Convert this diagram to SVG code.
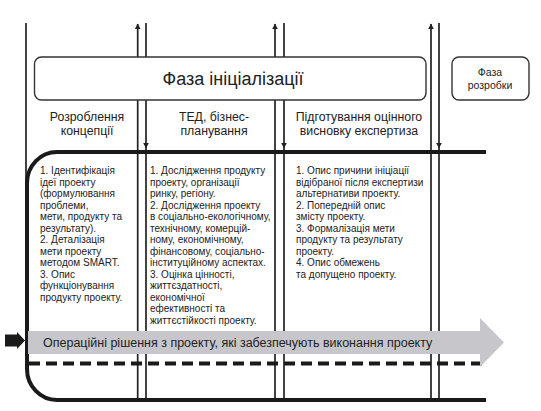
<svg xmlns="http://www.w3.org/2000/svg" width="541" height="411" viewBox="0 0 541 411">
<defs>
<style>
.v{stroke:#222;stroke-width:1.7;fill:none}
.thick{stroke:#1a1a1a;stroke-width:4;fill:none}
.box{fill:#fff;stroke:#333;stroke-width:1.4}
.t{font-family:"Liberation Sans",Arial,sans-serif;fill:#222}
.hd{font-size:12.3px;text-anchor:middle}
.bd{font-size:10px}
</style>
<marker id="ah" viewBox="0 0 10 10" refX="9" refY="5" markerWidth="6" markerHeight="7" markerUnits="userSpaceOnUse" orient="auto">
<path d="M0,0 L10,5 L0,10 Z" fill="#222"/>
</marker>
</defs>
<rect width="541" height="411" fill="#fff"/>
<g id="connectors">
<line class="v" x1="26" y1="23" x2="26" y2="200"/>
<line class="v" x1="137.7" y1="400" x2="137.7" y2="24" marker-end="url(#ah)"/>
<line class="v" x1="146" y1="23" x2="146" y2="148" marker-end="url(#ah)"/>
<line class="v" x1="146" y1="148" x2="146" y2="400"/>
<line class="v" x1="275" y1="400" x2="275" y2="24" marker-end="url(#ah)"/>
<line class="v" x1="284" y1="23" x2="284" y2="148" marker-end="url(#ah)"/>
<line class="v" x1="284" y1="148" x2="284" y2="400"/>
<line class="v" x1="431" y1="400" x2="431" y2="24" marker-end="url(#ah)"/>
<line class="v" x1="439" y1="23" x2="439" y2="148" marker-end="url(#ah)"/>
<line class="v" x1="439" y1="148" x2="439" y2="400"/>
<path class="thick" d="M486,152 H57 A30,31 0 0 0 27,183 V369 A30,31 0 0 0 57,400 H486"/>
<line x1="29" y1="363.5" x2="485" y2="363.5" stroke="#1a1a1a" stroke-width="4" stroke-dasharray="11 6"/>
</g>
<g id="phase-init">
<rect class="box" x="34.5" y="57" width="391.5" height="43" rx="7"/>
<text class="t" x="233" y="85" font-size="18" text-anchor="middle">Фаза ініціалізації</text>
</g>
<g id="phase-dev">
<rect class="box" x="452" y="57" width="77" height="43" rx="7"/>
<text class="t" x="490" y="76" font-size="10.5" text-anchor="middle">Фаза</text>
<text class="t" x="490" y="88.5" font-size="10.5" text-anchor="middle">розробки</text>
</g>
<g id="col1-head">
<text class="t hd" x="87" y="121">Розроблення</text>
<text class="t hd" x="87" y="134.5">концепції</text>
</g>
<g id="col2-head">
<text class="t hd" x="214" y="121">ТЕД, бізнес-</text>
<text class="t hd" x="214" y="134.5">планування</text>
</g>
<g id="col3-head">
<text class="t hd" x="359" y="121">Підготування оцінного</text>
<text class="t hd" x="359" y="134.5">висновку експертиза</text>
</g>
<g id="col1-body">
<text class="t bd" x="40" y="174">
<tspan x="40" dy="0">1. Ідентифікація</tspan>
<tspan x="40" dy="11.5">ідеї проекту</tspan>
<tspan x="40" dy="11.5">(формулювання</tspan>
<tspan x="40" dy="11.5">проблеми,</tspan>
<tspan x="40" dy="11.5">мети, продукту та</tspan>
<tspan x="40" dy="11.5">результату).</tspan>
<tspan x="40" dy="11.5">2. Деталізація</tspan>
<tspan x="40" dy="11.5">мети проекту</tspan>
<tspan x="40" dy="11.5">методом SMART.</tspan>
<tspan x="40" dy="11.5">3. Опис</tspan>
<tspan x="40" dy="11.5">функціонування</tspan>
<tspan x="40" dy="11.5">продукту проекту.</tspan>
</text>
</g>
<g id="col2-body">
<text class="t bd" x="150" y="174">
<tspan x="150" dy="0">1. Дослідження продукту</tspan>
<tspan x="150" dy="11.5">проекту, організації</tspan>
<tspan x="150" dy="11.5">ринку, регіону.</tspan>
<tspan x="150" dy="11.5">2. Дослідження проекту</tspan>
<tspan x="150" dy="11.5">в соціально-екологічному,</tspan>
<tspan x="150" dy="11.5">технічному, комерцій-</tspan>
<tspan x="150" dy="11.5">ному, економічному,</tspan>
<tspan x="150" dy="11.5">фінансовому, соціально-</tspan>
<tspan x="150" dy="11.5">інституційному аспектах.</tspan>
<tspan x="150" dy="11.5">3. Оцінка цінності,</tspan>
<tspan x="150" dy="11.5">життєздатності,</tspan>
<tspan x="150" dy="11.5">економічної</tspan>
<tspan x="150" dy="11.5">ефективності та</tspan>
<tspan x="150" dy="11.5">життєстійкості проекту.</tspan>
</text>
</g>
<g id="col3-body">
<text class="t bd" x="296" y="174">
<tspan x="296" dy="0">1. Опис причини ініціації</tspan>
<tspan x="296" dy="11.5">відібраної після експертизи</tspan>
<tspan x="296" dy="11.5">альтернативи проекту.</tspan>
<tspan x="296" dy="11.5">2. Попередній опис</tspan>
<tspan x="296" dy="11.5">змісту проекту.</tspan>
<tspan x="296" dy="11.5">3. Формалізація мети</tspan>
<tspan x="296" dy="11.5">продукту та результату</tspan>
<tspan x="296" dy="11.5">проекту.</tspan>
<tspan x="296" dy="11.5">4. Опис обмежень</tspan>
<tspan x="296" dy="11.5">та допущено проекту.</tspan>
</text>
</g>
<g id="operational-arrow">
<path d="M5,334.5 H17 V332 L25,340.5 L17,349 V346.5 H5 Z" fill="#1a1a1a"/>
<path d="M28,331 H480 V318 L504,342.5 L480,367 V354 H28 Z" fill="#c7c7cb"/>
<text class="t" x="43" y="347" font-size="12.5">Операційні рішення з проекту, які забезпечують виконання проекту</text>
</g>
</svg>
